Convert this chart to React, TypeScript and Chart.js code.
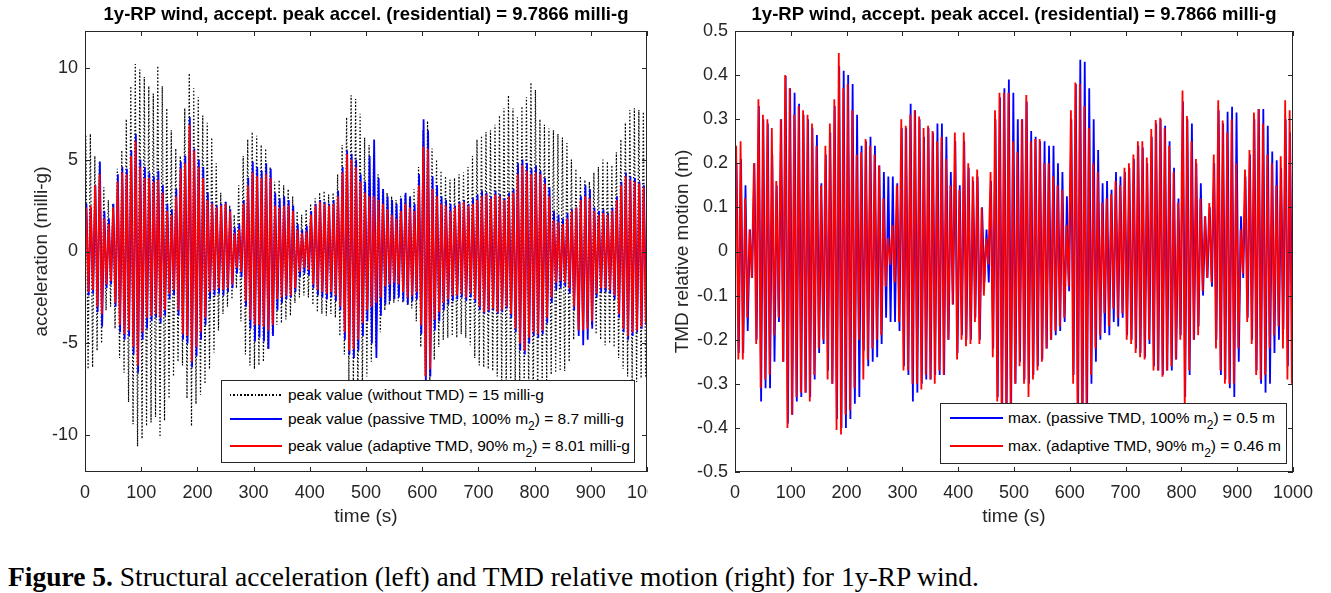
import React, { useEffect, useRef } from "react";
import { Chart, registerables } from "chart.js";

Chart.register(...registerables);

// ---------------- DATA (per oscillation cycle) ----------------
// one cycle ~ 8 s; for each cycle the upper (positive) and lower (negative) peak
const CYCLE_S = 8;
const timeTicks = [0, 100, 200, 300, 400, 500, 600, 700, 800, 900, 1000];
const accTicks = [-10, -5, 0, 5, 10];
const tmdTicks = [-0.5, -0.4, -0.3, -0.2, -0.1, 0, 0.1, 0.2, 0.3, 0.4, 0.5];

// left: acceleration (milli-g)
const accNoTmdUpper = [
  6.3, 6.4, 5.2, 4.9, 3.5, 2.8, 2.6, 4.5, 5.5, 7.2,
  9.0, 10.2, 9.9, 9.5, 9.0, 8.6, 10.1, 9.0, 7.8, 6.6,
  5.6, 5.2, 7.8, 9.7, 8.9, 8.4, 7.4, 7.0, 6.2, 4.8,
  3.2, 2.7, 2.5, 2.0, 3.6, 5.2, 6.1, 6.5, 6.3, 5.8,
  5.6, 4.6, 3.8, 3.9, 3.6, 3.4, 3.0, 2.2, 2.0, 2.3,
  2.6, 2.9, 3.2, 3.3, 3.1, 3.2, 4.2, 5.8, 7.3, 8.5,
  8.3, 7.5, 6.2, 5.8, 5.3, 4.2, 3.4, 3.2, 3.0, 2.8,
  3.0, 3.1, 2.9, 3.4, 4.6, 6.6, 7.1, 5.6, 5.0, 4.4,
  4.1, 3.9, 4.0, 4.2, 4.3, 4.6, 5.2, 6.1, 6.3, 6.5,
  6.6, 6.9, 7.4, 7.8, 8.5, 7.8, 7.3, 7.9, 8.4, 9.2,
  8.8, 7.2, 6.9, 6.7, 6.6, 6.4, 6.2, 5.9, 5.0, 4.5,
  4.1, 3.9, 3.8, 4.3, 4.6, 5.0, 4.9, 4.7, 5.4, 6.1,
  7.0, 7.7, 7.8, 7.7, 7.6,
];
const accNoTmdLower = [
  -6.4, -6.3, -5.4, -5.0, -3.2, -3.0, -4.2, -5.8, -6.6, -8.2,
  -9.4, -10.6, -10.2, -9.5, -9.3, -9.0, -10.1, -9.2, -8.0, -6.8,
  -6.0, -6.2, -8.0, -9.5, -8.3, -7.8, -7.2, -6.4, -5.5, -4.3,
  -3.4, -3.0, -2.6, -2.0, -3.8, -5.6, -6.2, -6.4, -6.2, -6.0,
  -5.3, -4.5, -4.0, -3.9, -3.7, -3.5, -2.8, -2.5, -2.4, -2.5,
  -2.9, -3.3, -3.4, -3.5, -3.4, -3.6, -4.6, -5.6, -7.0, -7.6,
  -7.9, -7.6, -6.8, -6.0, -5.2, -4.4, -3.2, -2.9, -2.8, -2.7,
  -2.8, -2.9, -3.1, -3.8, -5.2, -6.8, -7.2, -5.9, -5.2, -4.8,
  -4.7, -4.6, -4.7, -4.5, -4.7, -5.1, -5.8, -6.2, -6.3, -6.4,
  -6.5, -6.8, -7.4, -7.7, -7.9, -7.6, -7.5, -7.8, -8.0, -8.6,
  -8.2, -7.5, -7.0, -6.7, -6.6, -6.5, -6.5, -6.0, -4.8, -3.8,
  -3.7, -3.8, -4.0, -4.5, -4.8, -5.1, -5.0, -5.2, -5.8, -6.4,
  -6.8, -7.0, -7.1, -6.9, -6.8,
];
const accPassiveUpper = [
  2.6, 2.4, 3.6, 4.9, 2.2, 1.8, 2.6, 4.2, 4.6, 4.5,
  5.5, 6.4, 5.0, 4.6, 4.3, 4.1, 4.4, 3.6, 2.6, 2.3,
  3.4, 4.9, 5.2, 7.3, 5.6, 5.0, 4.6, 3.2, 2.7, 2.5,
  2.6, 2.7, 2.3, 1.3, 1.5, 2.8, 4.0, 4.9, 4.6, 4.4,
  4.8, 4.5, 3.2, 2.9, 3.0, 2.8, 2.5, 1.5, 1.2, 1.4,
  2.2, 2.6, 2.8, 2.7, 2.6, 2.8, 3.3, 4.6, 5.5, 5.3,
  5.0, 4.2, 3.8, 5.2, 6.1, 4.0, 3.4, 3.0, 2.8, 2.6,
  2.9, 3.2, 3.0, 2.6, 4.2, 7.2, 6.6, 4.1, 3.6, 3.0,
  2.8, 2.6, 2.5, 2.7, 2.8, 2.6, 2.9, 3.1, 3.3, 3.2,
  3.0, 3.3, 3.1, 2.9, 3.2, 3.4, 4.8, 5.0, 4.8, 4.5,
  4.7, 4.4, 4.0, 3.5, 2.2, 2.0, 1.8, 2.1, 2.3, 2.4,
  3.0, 3.6, 3.4, 2.4, 2.2, 2.3, 2.1, 2.4, 3.0, 3.8,
  4.3, 4.1, 4.0, 3.8, 3.6,
];
const accPassiveLower = [
  -2.4, -2.3, -3.3, -4.1, -2.0, -1.8, -3.0, -4.4, -4.8, -4.6,
  -5.6, -6.6, -4.8, -4.2, -3.8, -3.6, -3.9, -3.5, -2.6, -2.4,
  -3.5, -4.8, -5.0, -6.3, -5.7, -4.8, -4.0, -2.6, -2.4, -2.3,
  -2.4, -2.2, -2.0, -1.2, -1.4, -3.0, -4.2, -4.9, -4.7, -4.9,
  -5.3, -4.6, -3.2, -2.8, -2.6, -2.5, -2.2, -1.4, -1.2, -1.3,
  -2.0, -2.4, -2.5, -2.6, -2.5, -2.7, -3.2, -4.8, -5.6, -5.8,
  -5.4, -4.6, -3.8, -5.0, -5.8, -3.5, -2.9, -2.7, -2.6, -2.5,
  -2.7, -2.9, -2.7, -2.6, -4.5, -7.2, -6.8, -4.3, -3.8, -3.2,
  -2.9, -2.7, -2.6, -2.5, -2.7, -2.5, -2.8, -3.2, -3.4, -3.3,
  -3.2, -3.4, -3.3, -3.1, -3.6, -4.4, -5.4, -5.6, -5.0, -4.6,
  -4.7, -4.5, -3.9, -2.8, -2.1, -2.0, -1.9, -2.3, -3.2, -4.6,
  -5.1, -4.8, -4.2, -2.5, -2.2, -2.2, -2.3, -2.6, -3.6, -4.4,
  -4.8, -4.6, -4.4, -4.2, -4.0,
];
const accAdaptiveUpper = [
  2.4, 2.5, 3.6, 4.2, 1.8, 1.5, 2.4, 3.8, 4.3, 4.2,
  5.2, 6.0, 4.6, 4.0, 4.0, 3.8, 3.9, 3.2, 2.2, 2.0,
  3.0, 4.5, 4.8, 6.9, 5.5, 4.6, 4.0, 2.8, 2.6, 2.4,
  2.5, 2.6, 2.2, 1.0, 1.2, 2.6, 3.6, 4.3, 4.1, 4.0,
  4.2, 4.0, 2.5, 2.4, 2.5, 2.5, 2.2, 1.2, 1.0, 1.1,
  2.0, 2.5, 2.7, 2.6, 2.5, 2.6, 3.0, 4.3, 5.3, 5.0,
  4.6, 3.8, 3.2, 3.0, 3.0, 2.8, 2.6, 2.3, 2.0, 1.8,
  2.2, 2.6, 2.4, 2.2, 3.6, 5.7, 5.6, 3.4, 3.0, 2.6,
  2.5, 2.2, 2.4, 2.6, 2.7, 2.5, 2.6, 2.8, 3.0, 3.1,
  2.9, 3.1, 3.0, 2.8, 3.0, 3.2, 4.2, 4.7, 4.4, 4.2,
  4.3, 4.2, 3.7, 3.0, 1.7, 1.6, 1.5, 1.8, 2.2, 2.4,
  2.8, 3.0, 2.9, 2.2, 2.0, 2.1, 2.0, 2.2, 2.8, 3.6,
  4.1, 3.9, 3.8, 3.7, 3.5,
];
const accAdaptiveLower = [
  -2.2, -2.1, -3.0, -3.4, -1.8, -1.6, -2.8, -4.0, -4.5, -4.3,
  -5.2, -6.2, -4.4, -3.6, -3.5, -3.4, -3.6, -3.2, -2.3, -2.1,
  -3.2, -4.5, -4.6, -6.0, -5.2, -4.4, -3.6, -2.2, -2.1, -2.0,
  -2.1, -2.0, -1.8, -0.9, -1.1, -2.7, -3.7, -4.0, -4.0, -4.1,
  -4.3, -4.0, -2.6, -2.5, -2.4, -2.4, -2.0, -1.1, -0.9, -1.0,
  -1.8, -2.1, -2.2, -2.3, -2.2, -2.4, -3.0, -4.4, -5.4, -5.3,
  -4.8, -3.9, -3.2, -3.0, -2.8, -2.5, -1.9, -1.8, -1.7, -1.8,
  -2.2, -2.5, -2.4, -2.2, -4.0, -6.8, -6.4, -3.7, -3.3, -2.8,
  -2.6, -2.4, -2.4, -2.3, -2.5, -2.3, -2.6, -3.0, -3.3, -3.2,
  -3.1, -3.3, -3.2, -3.0, -3.4, -4.2, -5.0, -5.4, -4.7, -4.4,
  -4.5, -4.3, -3.6, -2.5, -1.7, -1.6, -1.7, -2.0, -3.0, -4.3,
  -4.3, -4.2, -3.8, -2.3, -2.0, -2.0, -2.1, -2.4, -3.4, -4.2,
  -4.6, -4.4, -4.3, -4.1, -3.9,
];

// right: TMD relative motion (m)
const tmdPassiveUpper = [
  0.2, 0.21, 0.15, 0.05, 0.2, 0.33, 0.3, 0.29, 0.22, 0.15,
  0.3, 0.398, 0.37, 0.36, 0.335, 0.31, 0.3, 0.28, 0.264, 0.155,
  0.22, 0.27, 0.33, 0.42, 0.41, 0.4, 0.38, 0.31, 0.24, 0.25,
  0.26, 0.24, 0.195, 0.18, 0.17, 0.17, 0.155, 0.28, 0.28, 0.335,
  0.32, 0.3, 0.26, 0.28, 0.27, 0.29, 0.29, 0.26, 0.18, 0.25,
  0.15, 0.25, 0.19, 0.16, 0.17, 0.1, 0.05, 0.16, 0.3, 0.35,
  0.37, 0.39, 0.36, 0.3, 0.3, 0.34, 0.273, 0.26, 0.25, 0.25,
  0.24, 0.24, 0.2, 0.18, 0.125, 0.3, 0.38, 0.435, 0.43, 0.37,
  0.3, 0.23, 0.155, 0.16, 0.14, 0.18, 0.17, 0.18, 0.19, 0.21,
  0.24, 0.236, 0.2, 0.26, 0.29, 0.3, 0.285, 0.25, 0.19, 0.12,
  0.34, 0.3, 0.29, 0.2, 0.155, 0.08, 0.1, 0.2, 0.32, 0.29,
  0.317, 0.328, 0.315, 0.08, 0.17, 0.22, 0.3, 0.323, 0.323, 0.285,
  0.227, 0.207, 0.19, 0.3, 0.27,
];
const tmdPassiveLower = [
  -0.23, -0.23, -0.18, -0.06, -0.2, -0.34, -0.31, -0.31, -0.25, -0.16,
  -0.25, -0.39, -0.37, -0.34, -0.33, -0.32, -0.33, -0.29, -0.23, -0.21,
  -0.27, -0.3, -0.38, -0.4, -0.4, -0.38, -0.345, -0.33, -0.225, -0.26,
  -0.25, -0.24, -0.21, -0.15, -0.16, -0.16, -0.18, -0.26, -0.28, -0.34,
  -0.32, -0.3, -0.29, -0.29, -0.28, -0.28, -0.28, -0.2, -0.12, -0.23,
  -0.19, -0.2, -0.2, -0.15, -0.2, -0.07, -0.07, -0.22, -0.33, -0.38,
  -0.38, -0.37, -0.3, -0.25, -0.29, -0.3, -0.28, -0.26, -0.245, -0.22,
  -0.2, -0.19, -0.18, -0.16, -0.09, -0.28, -0.38, -0.42, -0.4, -0.3,
  -0.25, -0.2, -0.185, -0.19, -0.16, -0.17, -0.15, -0.19, -0.2, -0.22,
  -0.23, -0.24, -0.21, -0.26, -0.27, -0.28, -0.27, -0.27, -0.245, -0.19,
  -0.33, -0.28, -0.2, -0.17, -0.1, -0.06, -0.08, -0.2, -0.28, -0.29,
  -0.31, -0.33, -0.25, -0.06, -0.15, -0.2, -0.27, -0.3, -0.32, -0.3,
  -0.23, -0.2, -0.177, -0.26, -0.245,
];
const tmdAdaptiveUpper = [
  0.24, 0.25, 0.12, 0.05, 0.2, 0.345, 0.31, 0.3, 0.28, 0.16,
  0.3, 0.4, 0.37, 0.31, 0.33, 0.32, 0.31, 0.29, 0.24, 0.15,
  0.24, 0.29, 0.345, 0.45, 0.37, 0.38, 0.32, 0.22, 0.225, 0.255,
  0.24, 0.22, 0.195, 0.12, 0.03, 0.06, 0.15, 0.3, 0.285, 0.31,
  0.32, 0.306, 0.28, 0.285, 0.273, 0.25, 0.26, 0.21, 0.15, 0.27,
  0.14, 0.27, 0.2, 0.17, 0.186, 0.1, 0.03, 0.18, 0.32, 0.36,
  0.36, 0.36, 0.25, 0.225, 0.3, 0.355, 0.25, 0.255, 0.255, 0.2,
  0.2, 0.17, 0.15, 0.14, 0.06, 0.32, 0.383, 0.38, 0.33, 0.28,
  0.2, 0.18, 0.11, 0.12, 0.13, 0.16, 0.15, 0.19, 0.2, 0.22,
  0.25, 0.25, 0.213, 0.278, 0.298, 0.303, 0.28, 0.24, 0.18, 0.11,
  0.365, 0.307, 0.25, 0.21, 0.12, 0.08, 0.11, 0.22, 0.343, 0.297,
  0.27, 0.3, 0.2, 0.05, 0.186, 0.23, 0.315, 0.323, 0.29, 0.22,
  0.2, 0.15, 0.216, 0.343, 0.32,
];
const tmdAdaptiveLower = [
  -0.245, -0.245, -0.15, -0.06, -0.21, -0.31, -0.29, -0.28, -0.19, -0.15,
  -0.25, -0.4, -0.37, -0.33, -0.32, -0.32, -0.34, -0.28, -0.22, -0.2,
  -0.29, -0.3, -0.405, -0.415, -0.37, -0.36, -0.31, -0.2, -0.29, -0.245,
  -0.22, -0.2, -0.19, -0.08, -0.03, -0.07, -0.16, -0.27, -0.27, -0.3,
  -0.3, -0.313, -0.28, -0.29, -0.3, -0.27, -0.28, -0.2, -0.12, -0.245,
  -0.2, -0.215, -0.21, -0.16, -0.21, -0.1, -0.03, -0.24, -0.34, -0.4,
  -0.38, -0.37, -0.3, -0.26, -0.3, -0.33, -0.29, -0.27, -0.25, -0.22,
  -0.2, -0.18, -0.17, -0.15, -0.08, -0.3, -0.4, -0.41, -0.36, -0.28,
  -0.22, -0.19, -0.14, -0.17, -0.13, -0.15, -0.14, -0.2, -0.21, -0.23,
  -0.24, -0.245, -0.2, -0.27, -0.27, -0.284, -0.27, -0.26, -0.245, -0.2,
  -0.36, -0.27, -0.2, -0.19, -0.09, -0.06, -0.07, -0.22, -0.27, -0.3,
  -0.3, -0.3, -0.22, -0.05, -0.16, -0.21, -0.28, -0.29, -0.28, -0.22,
  -0.19, -0.17, -0.22, -0.29, -0.3,
];

const TITLE = "1y-RP wind, accept. peak accel. (residential) = 9.7866 milli-g";

// ---------------- helpers ----------------
const FONT = '"Liberation Sans", Arial, Helvetica, sans-serif';
const AXIS_COLOR = "#262626";

function zigzag(upper: number[], lower: number[], phase: number) {
  const pts: { x: number; y: number }[] = [];
  for (let k = 0; k < upper.length; k++) {
    pts.push({ x: k * CYCLE_S + phase, y: upper[k] });
    pts.push({ x: k * CYCLE_S + phase + CYCLE_S / 2, y: lower[k] });
  }
  return pts;
}

const boxPlugin = {
  id: "matlabBox",
  afterDraw(chart: any) {
    const { ctx, chartArea: a, scales } = chart;
    ctx.save();
    ctx.strokeStyle = AXIS_COLOR;
    ctx.lineWidth = 1;
    ctx.strokeRect(Math.round(a.left) + 0.5, Math.round(a.top) + 0.5, Math.round(a.right - a.left) - 1, Math.round(a.bottom - a.top) - 1);
    const len = 5;
    ctx.beginPath();
    scales.x.ticks.forEach((t: any) => {
      const px = Math.round(scales.x.getPixelForValue(t.value)) + 0.5;
      ctx.moveTo(px, a.bottom);
      ctx.lineTo(px, a.bottom - len);
      ctx.moveTo(px, a.top);
      ctx.lineTo(px, a.top + len);
    });
    scales.y.ticks.forEach((t: any) => {
      const py = Math.round(scales.y.getPixelForValue(t.value)) + 0.5;
      ctx.moveTo(a.left, py);
      ctx.lineTo(a.left + len, py);
      ctx.moveTo(a.right, py);
      ctx.lineTo(a.right - len, py);
    });
    ctx.stroke();
    ctx.restore();
  },
};

function makeConfig(opts: {
  datasets: any[];
  yTitle: string;
  yMin: number;
  yMax: number;
  yTicks: number[];
  yAxisWidth: number;
  yTitlePad: number;
  padRight: number;
  fmt: (v: number) => string;
}): any {
  const tickFont = { family: FONT, size: 18 };
  const labelFont = { family: FONT, size: 19 };
  return {
    type: "line",
    data: { datasets: opts.datasets },
    plugins: [boxPlugin],
    options: {
      responsive: false,
      animation: false,
      normalized: true,
      parsing: false,
      events: [],
      layout: { padding: { left: 0, right: opts.padRight, top: 0, bottom: 0 } },
      elements: { point: { radius: 0 }, line: { tension: 0 } },
      plugins: {
        legend: { display: false },
        tooltip: { enabled: false },
        title: {
          display: true,
          text: TITLE,
          fullSize: false,
          color: "#000",
          font: { family: FONT, size: 18.5, weight: "bold" },
          padding: { top: 4, bottom: 4.8 },
        },
      },
      scales: {
        x: {
          type: "linear",
          min: 0,
          max: 1000,
          grid: { display: false, drawTicks: false },
          border: { display: false },
          afterBuildTicks: (s: any) => {
            s.ticks = timeTicks.map((v) => ({ value: v }));
          },
          afterFit: (s: any) => {
            s.height = 68;
            s.paddingLeft = 0;
            s.paddingRight = 0;
          },
          ticks: { color: AXIS_COLOR, font: tickFont, padding: 10, maxRotation: 0, autoSkip: false, callback: (v: number) => String(v) },
          title: { display: true, text: "time (s)", color: AXIS_COLOR, font: labelFont, padding: { top: 0, bottom: 11.6 } },
        },
        y: {
          type: "linear",
          min: opts.yMin,
          max: opts.yMax,
          grid: { display: false, drawTicks: false },
          border: { display: false },
          afterBuildTicks: (s: any) => {
            s.ticks = opts.yTicks.map((v) => ({ value: v }));
          },
          afterFit: (s: any) => {
            s.width = opts.yAxisWidth;
            s.paddingTop = 0;
            s.paddingBottom = 0;
          },
          ticks: { color: AXIS_COLOR, font: tickFont, padding: 7, autoSkip: false, callback: (v: number) => opts.fmt(v) },
          title: { display: true, text: opts.yTitle, color: AXIS_COLOR, font: labelFont, padding: { top: opts.yTitlePad, bottom: 0 } },
        },
      },
    },
  };
}

function ChartCanvas({ config, width, height }: { config: () => any; width: number; height: number }) {
  const ref = useRef<HTMLCanvasElement | null>(null);
  useEffect(() => {
    if (!ref.current) return;
    const chart = new Chart(ref.current, config());
    return () => chart.destroy();
  }, []);
  return <canvas ref={ref} width={width} height={height} style={{ width, height, display: "block" }} />;
}

const legendFont: React.CSSProperties = { fontFamily: FONT, fontSize: 15.5, color: "#000", whiteSpace: "nowrap" };
const sub = (t: string) => <sub style={{ fontSize: 12, verticalAlign: "-6px", lineHeight: 0 }}>{t}</sub>;

function LegendRow({ y, sampleLeft, sampleWidth, textLeft, kind, children }: any) {
  const sample: React.CSSProperties =
    kind === "dot"
      ? { position: "absolute", left: sampleLeft, top: y - 1, width: sampleWidth, height: 1.5, background: "repeating-linear-gradient(90deg, #000 0 1.5px, transparent 1.5px 3.5px)" }
      : { position: "absolute", left: sampleLeft, top: y - 1, width: sampleWidth, height: 2, background: kind };
  return (
    <>
      <div style={sample} />
      <div style={{ ...legendFont, position: "absolute", left: textLeft, top: y - 10, lineHeight: "20px" }}>{children}</div>
    </>
  );
}

export default function App() {
  const leftConfig = () =>
    makeConfig({
      yTitle: "acceleration (milli-g)",
      yMin: -12,
      yMax: 12,
      yTicks: accTicks,
      yAxisWidth: 85,
      yTitlePad: 30.6,
      padRight: 53,
      fmt: (v) => String(v),
      datasets: [
        { label: "no TMD", data: zigzag(accNoTmdUpper, accNoTmdLower, 1.5), borderColor: "#000", borderWidth: 1.2, borderDash: [1.5, 2], order: 3 },
        { label: "passive", data: zigzag(accPassiveUpper, accPassiveLower, 2.5), borderColor: "#0000ff", borderWidth: 1.8, order: 2 },
        { label: "adaptive", data: zigzag(accAdaptiveUpper, accAdaptiveLower, 2), borderColor: "#ff0000", borderWidth: 1.8, order: 1 },
      ],
    });
  const rightConfig = () =>
    makeConfig({
      yTitle: "TMD relative motion (m)",
      yMin: -0.5,
      yMax: 0.5,
      yTicks: tmdTicks,
      yAxisWidth: 87,
      yTitlePad: 23.6,
      padRight: 38,
      fmt: (v) => String(Number(v.toFixed(1))),
      datasets: [
        { label: "passive", data: zigzag(tmdPassiveUpper, tmdPassiveLower, 2.8), borderColor: "#0000ff", borderWidth: 1.8, order: 2 },
        { label: "adaptive", data: zigzag(tmdAdaptiveUpper, tmdAdaptiveLower, 2), borderColor: "#ff0000", borderWidth: 1.8, order: 1 },
      ],
    });

  return (
    <div style={{ position: "fixed", left: 0, top: 0, width: 1331, height: 593, background: "#fff", overflow: "hidden" }}>
      <div style={{ position: "absolute", left: 0, top: 0, width: 648, height: 540, overflow: "hidden" }}>
        <ChartCanvas config={leftConfig} width={700} height={540} />
      </div>
      <div style={{ position: "absolute", left: 648, top: 0, width: 683, height: 540 }}>
        <ChartCanvas config={rightConfig} width={683} height={540} />
      </div>

      {/* left legend */}
      <div style={{ position: "absolute", left: 221, top: 380, width: 414, height: 83, border: `1px solid ${AXIS_COLOR}`, background: "#fff", boxSizing: "border-box" }}>
        <LegendRow y={14} sampleLeft={8} sampleWidth={52} textLeft={66} kind="dot">peak value (without TMD) = 15 milli-g</LegendRow>
        <LegendRow y={38} sampleLeft={8} sampleWidth={52} textLeft={66} kind="#0000ff">
          peak value (passive TMD, 100% m{sub("2")}) = 8.7 milli-g
        </LegendRow>
        <LegendRow y={65} sampleLeft={8} sampleWidth={52} textLeft={66} kind="#ff0000">
          peak value (adaptive TMD, 90% m{sub("2")}) = 8.01 milli-g
        </LegendRow>
      </div>

      {/* right legend */}
      <div style={{ position: "absolute", left: 940, top: 403, width: 347, height: 61, border: `1px solid ${AXIS_COLOR}`, background: "#fff", boxSizing: "border-box" }}>
        <LegendRow y={14} sampleLeft={9} sampleWidth={53} textLeft={67} kind="#0000ff">
          max. (passive TMD, 100% m{sub("2")}) = 0.5 m
        </LegendRow>
        <LegendRow y={42} sampleLeft={9} sampleWidth={53} textLeft={67} kind="#ff0000">
          max. (adaptive TMD, 90% m{sub("2")}) = 0.46 m
        </LegendRow>
      </div>

      <div style={{ position: "absolute", left: 8, top: 561, fontFamily: '"Liberation Serif", "Times New Roman", serif', fontSize: 27.5, color: "#000", whiteSpace: "nowrap", lineHeight: "32px" }}>
        <b>Figure 5.</b> Structural acceleration (left) and TMD relative motion (right) for 1y-RP wind.
      </div>
    </div>
  );
}
